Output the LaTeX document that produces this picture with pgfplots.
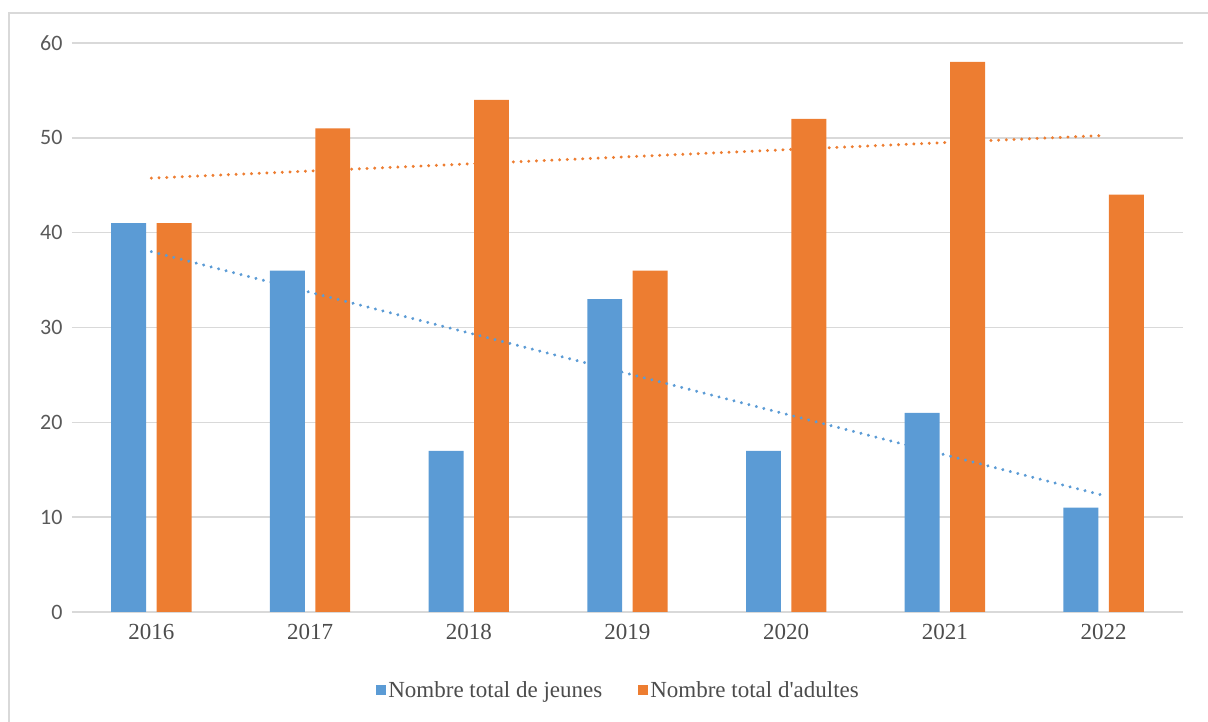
\documentclass[border=0pt]{standalone}
\usepackage{pgfplots}
\pgfplotsset{compat=1.18}
\usepackage{fontspec}
\setmainfont{Liberation Serif}
\newfontfamily\carlito{Carlito}
\definecolor{cblue}{HTML}{5B9BD5}
\definecolor{corange}{HTML}{ED7D31}
\definecolor{cgrid}{HTML}{D9D9D9}
\definecolor{ctext}{HTML}{595959}
\begin{document}
\begin{tikzpicture}[x=1pt,y=1pt]
\path[use as bounding box] (0,0) rectangle (1208,722);
\draw[color=cgrid, line width=2pt] (9,0) -- (9,709) -- (1209,709);
\begin{axis}[
  at={(72pt,110pt)}, anchor=south west,
  scale only axis, width=1111pt, height=569pt,
  xmin=-0.5, xmax=6.5, ymin=0, ymax=60,
  xtick={0,1,2,3,4,5,6},
  xticklabels={2016,2017,2018,2019,2020,2021,2022},
  ytick={0,10,20,30,40,50,60},
  /pgf/number format/assume math mode=true,
  major tick length=0pt,
  axis line style={draw=none},
  ymajorgrids, grid style={color=cgrid, line width=1.6pt},
  xticklabel style={font=\fontsize{23}{26}\selectfont, color=ctext!85!black, yshift=-9pt},
  yticklabel style={font=\carlito\fontsize{22}{26}\selectfont, color=ctext, xshift=-6pt},
  bar width=0.22,
  legend style={at={(0.492,-0.137)}, anchor=center, draw=none, legend columns=2,
    font=\fontsize{23}{26}\selectfont, text=ctext!85!black,
    /tikz/every even column/.append style={column sep=34pt}},
  legend image code/.code={\fill (0pt,-5pt) rectangle (10pt,5pt);},
  clip=false,
]
\addplot[ybar, bar shift=-0.143, fill=cblue, draw=none] coordinates {
 (0,41) (1,36) (2,17) (3,33) (4,17) (5,21) (6,11)};
\addlegendentry{Nombre total de jeunes}
\addplot[ybar, bar shift=0.143, fill=corange, draw=none] coordinates {
 (0,41) (1,51) (2,54) (3,36) (4,52) (5,58) (6,44)};
\addlegendentry{Nombre total d\textquotesingle adultes}
\addplot[forget plot, color=corange, line width=3.3pt, line cap=round, dash pattern=on 0.01pt off 7.7pt] coordinates {(0,45.75) (6,50.25)};
\addplot[forget plot, color=cblue, line width=3.3pt, line cap=round, dash pattern=on 0.01pt off 7.7pt] coordinates {(0,38.0) (6,12.29)};
\end{axis}
\end{tikzpicture}
\end{document}
